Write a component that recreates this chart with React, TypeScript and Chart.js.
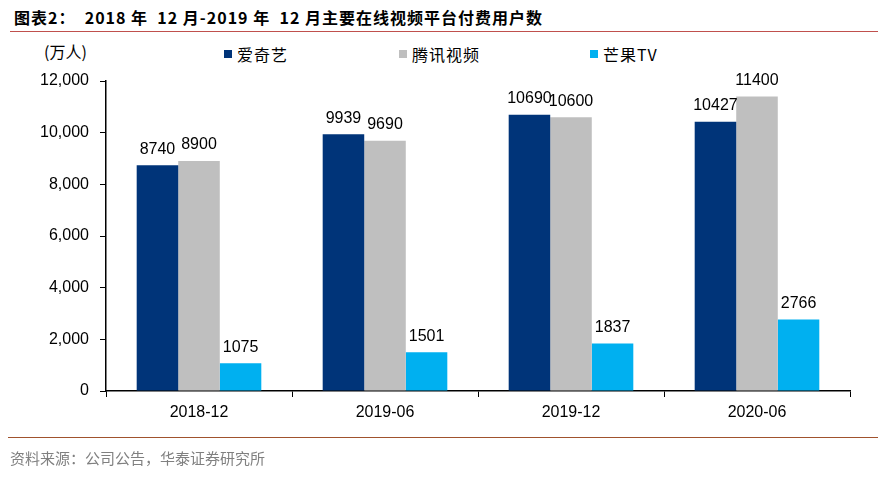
import React, { useEffect, useRef } from "react";
import { Chart, registerables } from "chart.js";

Chart.register(...registerables);

const categories = ["2018-12", "2019-06", "2019-12", "2020-06"];
const iqiyi = [8740, 9939, 10690, 10427];
const tencent = [8900, 9690, 10600, 11400];
const mango = [1075, 1501, 1837, 2766];
const seriesNames = ["爱奇艺", "腾讯视频", "芒果TV"];
const seriesColors = ["#003479", "#BFBFBF", "#00B0F0"];
const yTicks = [0, 2000, 4000, 6000, 8000, 10000, 12000];

const CJK = '"Noto Sans CJK SC", "Liberation Sans", sans-serif';
const ARIAL = '"Liberation Sans", Arial, sans-serif';

const labelPlugin = {
  id: "valueLabels",
  afterDatasetsDraw(chart: any) {
    const ctx = chart.ctx;
    ctx.save();
    ctx.font = `16px ${ARIAL}`;
    ctx.fillStyle = "#000";
    ctx.textAlign = "center";
    ctx.textBaseline = "bottom";
    chart.data.datasets.forEach((ds: any, i: number) => {
      const meta = chart.getDatasetMeta(i);
      meta.data.forEach((el: any, j: number) => {
        ctx.fillText(String(ds.data[j]), el.x, el.y - 8);
      });
    });
    ctx.restore();
  },
};

export default function App() {
  const ref = useRef<HTMLCanvasElement>(null);
  useEffect(() => {
    if (!ref.current) return;
    const chart = new Chart(ref.current, {
      type: "bar",
      data: {
        labels: categories,
        datasets: [iqiyi, tencent, mango].map((d, i) => ({
          label: seriesNames[i],
          data: d,
          backgroundColor: seriesColors[i],
          categoryPercentage: 0.67,
          barPercentage: 1,
        })),
      },
      options: {
        animation: false,
        responsive: false,
        maintainAspectRatio: false,
        layout: { padding: { left: 0, right: 33, top: 81, bottom: 0 } },
        plugins: { legend: { display: false }, tooltip: { enabled: false } },
        scales: {
          x: {
            afterFit: (s: any) => { s.height = 96; },
            grid: {
              offset: true,
              drawOnChartArea: false,
              drawTicks: true,
              tickLength: 6,
              color: "#000",
            },
            border: { color: "#000", width: 1.5 },
            ticks: { color: "#000", font: { family: ARIAL, size: 16 }, padding: 6 },
          },
          y: {
            min: 0,
            max: 12000,
            afterFit: (s: any) => { s.width = 106; },
            afterBuildTicks: (s: any) => { s.ticks = yTicks.map((v) => ({ value: v })); },
            grid: { drawOnChartArea: false, tickLength: 6, color: "#000" },
            border: { color: "#000", width: 1.5 },
            ticks: {
              color: "#000",
              font: { family: ARIAL, size: 16 },
              padding: 11,
              callback: (v: any) => Number(v).toLocaleString("en-US"),
            },
          },
        },
      },
      plugins: [labelPlugin],
    });
    return () => chart.destroy();
  }, []);

  const legendItem = (i: number, left: number) => (
    <div
      key={i}
      style={{ position: "absolute", left, top: 42, display: "flex", alignItems: "center", fontFamily: CJK, fontSize: 16, letterSpacing: 1, color: "#000" }}
    >
      <span style={{ display: "inline-block", width: 8, height: 8, background: seriesColors[i], marginRight: 5 }} />
      {seriesNames[i]}
    </div>
  );

  return (
    <div style={{ position: "fixed", left: 0, top: 0, width: 883, height: 487, background: "#fff", overflow: "hidden" }}>
      <div style={{ position: "absolute", left: 14, top: 5, fontFamily: CJK, fontWeight: 700, fontSize: 16, letterSpacing: 1, color: "#000", whiteSpace: "pre" }}>
        {"图表2：  2018 年  12 月-2019 年  12 月主要在线视频平台付费用户数"}
      </div>
      <div style={{ position: "absolute", left: 10, top: 31, width: 868, height: 1, background: "#C0504D" }} />
      <div style={{ position: "absolute", left: 44, top: 39, fontFamily: CJK, fontSize: 16, color: "#000" }}>(万人)</div>
      {legendItem(0, 224)}
      {legendItem(1, 399)}
      {legendItem(2, 590)}
      <canvas ref={ref} width={883} height={487} style={{ position: "absolute", left: 0, top: 0 }} />
      <div style={{ position: "absolute", left: 8, top: 437, width: 870, height: 1, background: "#A0522D" }} />
      <div style={{ position: "absolute", left: 10, top: 447, fontFamily: CJK, fontSize: 15, color: "#808080" }}>
        资料来源：公司公告，华泰证券研究所
      </div>
    </div>
  );
}
